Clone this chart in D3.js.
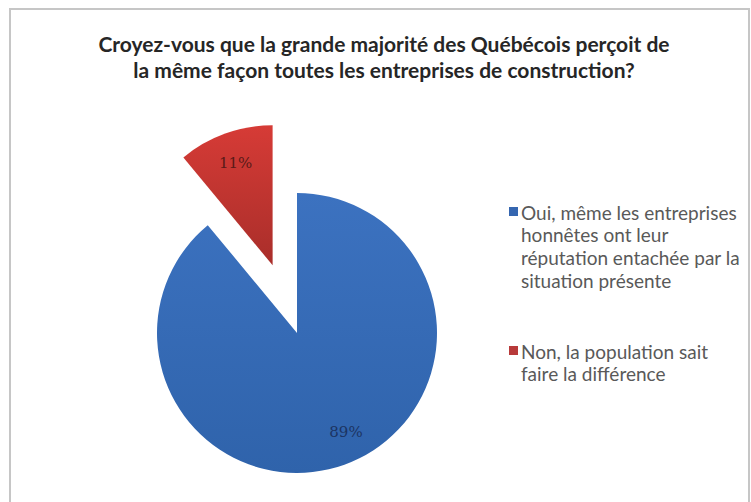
<!DOCTYPE html>
<html>
<head>
<meta charset="utf-8">
<script src="https://cdn.jsdelivr.net/npm/d3@7"></script>
<style>
  body { margin: 0; background: #fff; }
  svg { display: block; }
</style>
</head>
<body>
<svg id="chart" width="751" height="502"></svg>
<script>
//Chart data
var titleLines = ["Croyez-vous que la grande majorité des Québécois perçoit de",
                  "la même façon toutes les entreprises de construction?"];
var categories = ["Oui, même les entreprises honnêtes ont leur réputation entachée par la situation présente",
                  "Non, la population sait faire la différence"];
var values = [89, 11];
var legendLines = [["Oui, même les entreprises", "honnêtes ont leur", "réputation entachée par la", "situation présente"],
                   ["Non, la population sait", "faire la différence"]];

var svg = d3.select("#chart");
var font = "Lato, 'Open Sans', sans-serif";

//Gradients for the two slices
var defs = svg.append("defs");
var blueGrad = defs.append("linearGradient").attr("id", "gBlue")
    .attr("x1", 0).attr("y1", 0).attr("x2", 0).attr("y2", 1);
blueGrad.append("stop").attr("offset", "0%").attr("stop-color", "#3c72c0");
blueGrad.append("stop").attr("offset", "100%").attr("stop-color", "#2f63ab");
var redGrad = defs.append("linearGradient").attr("id", "gRed")
    .attr("x1", 0).attr("y1", 0).attr("x2", 0).attr("y2", 1);
redGrad.append("stop").attr("offset", "0%").attr("stop-color", "#d63b36");
redGrad.append("stop").attr("offset", "100%").attr("stop-color", "#a92e2a");
var colors = ["url(#gBlue)", "url(#gRed)"];
var swatch = ["#3566b0", "#b83a3a"];
var labelColors = ["#1c3462", "#5a1a18"];

//Frame
svg.append("rect")
    .attr("x", 10).attr("y", 9)
    .attr("width", 739).attr("height", 510)
    .attr("fill", "#fff")
    .attr("stroke", "#c6c6c6")
    .attr("stroke-width", 2);

//Title
svg.append("g").selectAll("text")
    .data(titleLines)
    .enter().append("text")
    .attr("x", 384)
    .attr("y", function (d, i) { return 52 + i * 26; })
    .attr("text-anchor", "middle")
    .style("font-family", font)
    .style("font-weight", "bold")
    .style("font-size", "21px")
    .style("fill", "#262626")
    .text(function (d) { return d; });

//Pie
var cx = 297, cy = 333, radius = 140, explode = 72;
var pie = d3.pie().sort(null).value(function (d) { return d; });
var arc = d3.arc().innerRadius(0).outerRadius(radius);
var arcs = pie(values);

var g = svg.append("g").attr("transform", "translate(" + cx + "," + cy + ")");

function offset(d, i) {
    if (i === 0) return [0, 0];
    var a = (d.startAngle + d.endAngle) / 2;
    return [Math.sin(a) * explode, -Math.cos(a) * explode];
}

var slices = g.selectAll("g.slice")
    .data(arcs)
    .enter().append("g")
    .attr("class", "slice")
    .attr("transform", function (d, i) {
        var o = offset(d, i);
        return "translate(" + o[0] + "," + o[1] + ")";
    });

slices.append("path")
    .attr("d", arc)
    .attr("fill", function (d, i) { return colors[i]; });

var labelArc = d3.arc().innerRadius(radius * 0.78).outerRadius(radius * 0.78);
var labelShift = [[12, -4], [0, 0]];
slices.append("text")
    .attr("transform", function (d, i) {
        var c = labelArc.centroid(d);
        return "translate(" + (c[0] + labelShift[i][0]) + "," + (c[1] + labelShift[i][1]) + ")";
    })
    .attr("text-anchor", "middle")
    .attr("dy", "0.35em")
    .style("font-family", "'DejaVu Serif', serif")
    .style("font-size", "15px")
    .style("fill", function (d, i) { return labelColors[i]; })
    .text(function (d) { return d.data + "%"; });

//Legend
var legend = svg.append("g");
var legendY = [213, 352];
legendLines.forEach(function (lines, i) {
    legend.append("rect")
        .attr("x", 509).attr("y", legendY[i] - 6)
        .attr("width", 9).attr("height", 9)
        .attr("fill", swatch[i]);
    legend.append("text")
        .attr("x", 521).attr("y", legendY[i])
        .style("font-family", font)
        .style("font-size", "19px")
        .style("fill", "#595959")
        .selectAll("tspan")
        .data(lines)
        .enter().append("tspan")
        .attr("x", 521)
        .attr("dy", function (d, j) { return j === 0 ? "0.35em" : "22.7px"; })
        .text(function (d) { return d; });
});
</script>
</body>
</html>
